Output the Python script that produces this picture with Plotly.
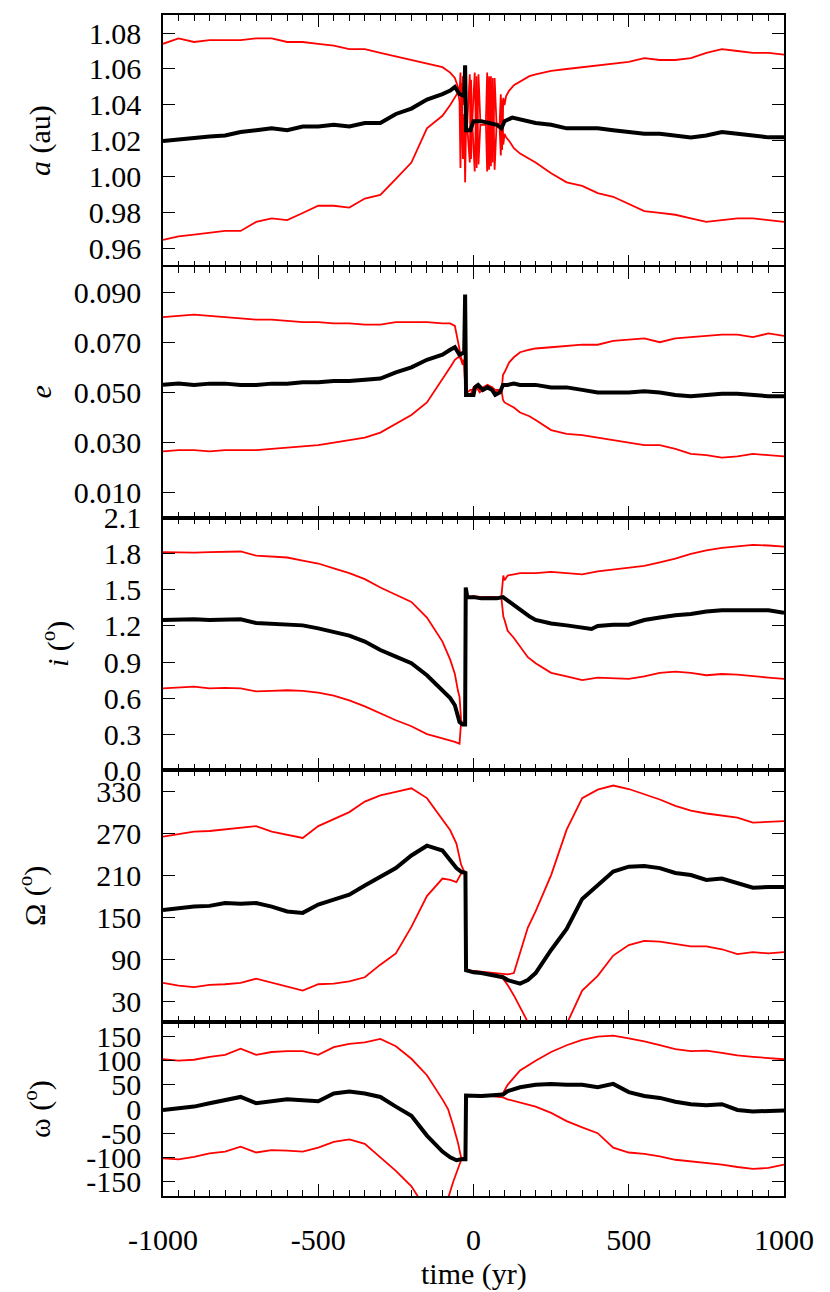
import plotly.graph_objects as go
from plotly.subplots import make_subplots

FONT = "Liberation Serif"
RED = "#ff0000"

# ---- panel 1: semi-major axis a (au) ----
A_T = [-1000, -950, -900, -850, -800, -750, -700, -650, -600, -550, -500, -450, -400, -350,
       -300, -250, -200, -150, -100, -75, -60, -45, -30, -27, -24, -10, 0, 25, 50, 75, 90,
       100, 125, 150, 200, 250, 300, 350, 400, 450, 500, 550, 600, 650, 700, 750, 800, 850,
       900, 950, 1000]
A_MID = [1.020, 1.021, 1.022, 1.0225, 1.023, 1.025, 1.026, 1.027, 1.026, 1.028, 1.028, 1.029,
         1.028, 1.030, 1.030, 1.035, 1.038, 1.043, 1.046, 1.048, 1.050, 1.046, 1.045, 1.062,
         1.026, 1.026, 1.031, 1.031, 1.030, 1.029, 1.027, 1.031, 1.033, 1.032, 1.030, 1.029,
         1.027, 1.027, 1.027, 1.026, 1.025, 1.024, 1.024, 1.023, 1.022, 1.023, 1.025, 1.024,
         1.023, 1.022, 1.022]
A_T_RED = [-1000, -950, -900, -850, -800, -750, -700, -650, -600, -550, -500, -450, -400, -350,
           -300, -250, -200, -150, -100, -75, -60, -50, -45, -42, -38, -34, -30, -27, -24, -20,
           -12, -8, -4, 4, 10, 16, 22, 40, 44, 50, 56, 62, 68, 74, 84, 88, 92, 96, 100, 105,
           115, 130, 150, 180, 200, 250, 300, 350, 400, 450, 500, 550, 600, 650, 700, 750,
           800, 850, 900, 950, 1000]
A_HI = [1.074, 1.077, 1.075, 1.076, 1.076, 1.076, 1.077, 1.077, 1.075, 1.075, 1.074, 1.073,
        1.071, 1.071, 1.069, 1.067, 1.065, 1.063, 1.061, 1.058, 1.055, 1.050, 1.046, 1.058,
        1.030, 1.056, 1.040, 1.060, 1.030, 1.030, 1.057, 1.010, 1.031, 1.058, 1.005, 1.057,
        1.031, 1.031, 1.058, 1.004, 1.056, 1.008, 1.055, 1.030, 1.029, 1.046, 1.015, 1.044,
        1.040, 1.045, 1.048, 1.051, 1.053, 1.056, 1.057, 1.059, 1.060, 1.061, 1.062, 1.063,
        1.064, 1.066, 1.065, 1.065, 1.066, 1.069, 1.071, 1.070, 1.069, 1.069, 1.068]
A_LO = [0.965, 0.967, 0.968, 0.969, 0.970, 0.970, 0.975, 0.977, 0.976, 0.980, 0.984, 0.984,
        0.983, 0.988, 0.990, 0.999, 1.008, 1.027, 1.034, 1.040, 1.044, 1.047, 1.042, 1.005,
        1.052, 1.010, 1.035, 0.997, 1.028, 1.028, 1.008, 1.054, 1.030, 1.003, 1.056, 1.007,
        1.029, 1.029, 1.003, 1.056, 1.006, 1.055, 1.004, 1.028, 1.028, 1.012, 1.043, 1.018,
        1.024, 1.022, 1.020, 1.016, 1.013, 1.010, 1.008, 1.002, 0.997, 0.995, 0.991, 0.989,
        0.985, 0.981, 0.980, 0.979, 0.977, 0.975, 0.976, 0.977, 0.977, 0.976, 0.975]

# ---- panel 2: eccentricity e ----
E_T = [-1000, -950, -900, -850, -800, -750, -700, -650, -600, -550, -500, -450, -400, -350,
       -300, -250, -200, -150, -100, -75, -60, -45, -30, -27, -24, -10, 0, 5, 15, 30, 45,
       60, 70, 85, 95, 110, 130, 150, 200, 250, 300, 350, 400, 450, 500, 550, 600, 650, 700,
       750, 800, 850, 900, 950, 1000]
E_MID = [0.053, 0.0535, 0.053, 0.0535, 0.0535, 0.053, 0.053, 0.0535, 0.0535, 0.054, 0.054,
         0.0545, 0.0545, 0.055, 0.0555, 0.058, 0.060, 0.063, 0.065, 0.067, 0.068, 0.065,
         0.066, 0.089, 0.049, 0.049, 0.049, 0.052, 0.053, 0.051, 0.052, 0.051, 0.049, 0.050,
         0.053, 0.053, 0.0535, 0.053, 0.053, 0.052, 0.052, 0.051, 0.050, 0.050, 0.050,
         0.0505, 0.050, 0.049, 0.0485, 0.049, 0.0495, 0.0495, 0.049, 0.0485, 0.0485]
E_T_RED = [-1000, -950, -900, -850, -800, -750, -700, -650, -600, -550, -500, -450, -400, -350,
           -300, -250, -200, -150, -100, -75, -60, -50, -45, -40, -35, -30, -26, -20, -10, 0,
           10, 20, 30, 45, 60, 70, 80, 90, 95, 100, 115, 130, 150, 180, 200, 250, 300, 350,
           400, 450, 500, 550, 600, 650, 700, 750, 800, 850, 900, 950, 1000]
E_HI = [0.080, 0.0805, 0.081, 0.0805, 0.080, 0.0795, 0.079, 0.079, 0.0785, 0.078, 0.078,
        0.0775, 0.0775, 0.077, 0.077, 0.078, 0.078, 0.078, 0.0775, 0.0775, 0.0765, 0.070,
        0.066, 0.064, 0.062, 0.063, 0.049, 0.049, 0.049, 0.052, 0.053, 0.051, 0.052, 0.053,
        0.052, 0.050, 0.051, 0.050, 0.057, 0.058, 0.062, 0.064, 0.066, 0.067, 0.0675, 0.068,
        0.0685, 0.069, 0.069, 0.0705, 0.071, 0.0715, 0.070, 0.0715, 0.072, 0.0725, 0.073,
        0.073, 0.072, 0.0735, 0.0725]
E_LO = [0.0265, 0.027, 0.027, 0.0265, 0.027, 0.027, 0.027, 0.0275, 0.028, 0.0285, 0.029,
        0.030, 0.031, 0.032, 0.034, 0.0375, 0.041, 0.046, 0.055, 0.060, 0.063, 0.064, 0.064,
        0.063, 0.061, 0.062, 0.050, 0.050, 0.051, 0.051, 0.052, 0.050, 0.051, 0.052, 0.052,
        0.051, 0.051, 0.051, 0.047, 0.046, 0.045, 0.044, 0.042, 0.0405, 0.039, 0.035,
        0.0335, 0.033, 0.032, 0.031, 0.030, 0.029, 0.029, 0.0275, 0.0255, 0.025, 0.024,
        0.0245, 0.0255, 0.025, 0.0245]

# ---- panel 3: inclination i (deg) ----
I_T = [-1000, -950, -900, -850, -800, -750, -700, -650, -600, -550, -500, -450, -400, -350,
       -300, -250, -200, -150, -100, -75, -60, -45, -35, -27, -25, -20, -10, 0, 25, 50, 75,
       95, 110, 130, 150, 180, 200, 250, 300, 350, 380, 400, 450, 500, 550, 600, 650, 700,
       750, 800, 850, 900, 950, 1000]
I_MID = [1.25, 1.255, 1.255, 1.25, 1.25, 1.255, 1.225, 1.22, 1.21, 1.205, 1.18, 1.15, 1.12,
         1.07, 1.0, 0.945, 0.89, 0.79, 0.67, 0.60, 0.54, 0.40, 0.38, 0.38, 1.52, 1.44, 1.44,
         1.44, 1.43, 1.43, 1.43, 1.44, 1.41, 1.37, 1.33, 1.28, 1.25, 1.22, 1.205, 1.19, 1.175,
         1.2, 1.21, 1.21, 1.25, 1.27, 1.29, 1.30, 1.32, 1.33, 1.33, 1.33, 1.33, 1.31]
I_T_RED = [-1000, -950, -900, -850, -800, -750, -700, -650, -600, -550, -500, -450, -400, -350,
           -300, -250, -200, -150, -100, -75, -60, -50, -45, -40, -35, -27, -25, -20, -10, 0,
           25, 50, 75, 90, 96, 100, 110, 130, 150, 175, 200, 250, 300, 350, 400, 450, 500,
           550, 600, 650, 700, 750, 800, 850, 900, 950, 1000]
I_HI = [1.815, 1.81, 1.81, 1.815, 1.815, 1.82, 1.785, 1.775, 1.77, 1.745, 1.72, 1.68, 1.64,
        1.59, 1.52, 1.46, 1.40, 1.27, 1.07, 0.92, 0.80, 0.66, 0.61, 0.42, 0.38, 0.40, 1.45,
        1.45, 1.44, 1.45, 1.44, 1.44, 1.43, 1.45, 1.62, 1.58, 1.62, 1.63, 1.64, 1.64, 1.64,
        1.65, 1.64, 1.63, 1.655, 1.67, 1.69, 1.70, 1.73, 1.76, 1.80, 1.83, 1.85, 1.86, 1.875,
        1.87, 1.86]
I_LO = [0.68, 0.69, 0.695, 0.68, 0.685, 0.68, 0.655, 0.66, 0.665, 0.66, 0.645, 0.62, 0.58,
        0.53, 0.47, 0.415, 0.365, 0.30, 0.265, 0.25, 0.235, 0.225, 0.22, 0.40, 0.38, 0.38,
        1.44, 1.44, 1.43, 1.44, 1.43, 1.44, 1.44, 1.43, 1.28, 1.25, 1.16, 1.10, 1.03, 0.94,
        0.89, 0.81, 0.78, 0.75, 0.77, 0.765, 0.76, 0.78, 0.81, 0.82, 0.81, 0.79, 0.80, 0.795,
        0.78, 0.77, 0.76]

# ---- panel 4: node longitude Omega (deg) ----
O_T = [-1000, -950, -900, -850, -800, -750, -700, -650, -600, -550, -500, -450, -400, -350,
       -300, -250, -200, -150, -100, -75, -55, -40, -30, -26, -24, 0, 25, 50, 75, 95, 110,
       130, 150, 175, 200, 250, 300, 350, 400, 450, 500, 550, 600, 650, 700, 750, 800, 850,
       900, 950, 1000]
O_MID = [160, 163, 165, 166, 170, 169, 170, 165, 158, 156, 168, 175, 182, 195, 207, 220, 238,
         252, 245, 231, 220, 215, 213, 213, 74, 71, 70, 68, 66, 64, 60, 57, 55, 60, 70, 103,
         133, 176, 196, 215, 222, 223, 220, 213, 210, 203, 205, 198, 192, 193, 193]
O_HI = [265, 268, 272, 273, 275, 278, 280, 272, 268, 263, 280, 290, 300, 315, 324, 329, 334,
        320, 290, 274, 255, 225, 215, 215, 74, 73, 71, 70, 69, 68, 68, 70, 100, 135, 158, 210,
        275, 320, 332, 338, 333, 326, 318, 309, 302, 298, 295, 292, 285, 286, 287]
O_LO = [56, 52, 50, 53, 54, 56, 62, 56, 50, 45, 54, 55, 58, 64, 82, 98, 136, 180, 205, 203,
        200, 212, 215, 214, 74, 72, 71, 69, 67, 62, 53, 38, 22, 0, -25, -60, -3, 45, 66, 95,
        110, 116, 115, 112, 108, 108, 104, 97, 100, 98, 100]

# ---- panel 5: argument of perihelion omega (deg) ----
W_T = [-1000, -950, -900, -850, -800, -750, -700, -650, -600, -550, -500, -450, -400, -350,
       -300, -250, -200, -150, -100, -75, -55, -40, -30, -26, -24, 0, 25, 50, 75, 95, 110,
       130, 150, 200, 250, 300, 350, 400, 450, 500, 550, 600, 650, 700, 750, 800, 850, 900,
       950, 1000]
W_MID = [-2, 2, 5, 12, 18, 25, 12, 15, 20, 18, 16, 32, 36, 32, 25, 5, -14, -55, -88, -100,
         -106, -104, -104, -104, 28, 27, 27, 28, 28, 30, 37, 40, 45, 50, 52, 50, 50, 45, 52,
         35, 27, 23, 15, 10, 8, 10, -2, -5, -3, -3]
W_T_RED = [-1000, -950, -900, -850, -800, -750, -700, -650, -600, -550, -500, -450, -400, -350,
           -300, -250, -200, -175, -150, -100, -82, -65, -50, -40, -30, -26, -24, 0, 25, 50,
           75, 95, 110, 130, 150, 200, 250, 300, 350, 400, 450, 500, 550, 600, 650, 700, 750,
           800, 850, 900, 950, 1000]
W_HI = [103, 100, 102, 108, 112, 125, 112, 118, 120, 120, 112, 128, 135, 138, 145, 130, 104,
        88, 70, 20, 0, -35, -70, -100, -102, -100, 28, 28, 27, 29, 30, 33, 50, 65, 80, 100,
        118, 132, 143, 150, 152, 146, 140, 132, 124, 120, 121, 116, 111, 108, 106, 103]
W_LO = [-102, -104, -99, -92, -88, -78, -90, -85, -86, -88, -80, -68, -63, -72, -100, -128,
        -160, -185, -210, -210, -185, -150, -126, -106, -104, -103, 28, 26, 25, 27, 26, 24,
        20, 17, 14, 5, -8, -25, -38, -50, -80, -90, -93, -98, -105, -108, -112, -115, -120,
        -124, -122, -115]

PANELS = [
    dict(t=A_T, mid=A_MID, tr=A_T_RED, hi=A_HI, lo=A_LO, rng=[0.95, 1.09],
         tv=[0.96, 0.98, 1.00, 1.02, 1.04, 1.06, 1.08],
         tt=["0.96", "0.98", "1.00", "1.02", "1.04", "1.06", "1.08"],
         title="<i>a</i> (au)", tx=40),
    dict(t=E_T, mid=E_MID, tr=E_T_RED, hi=E_HI, lo=E_LO, rng=[0.0, 0.1],
         tv=[0.01, 0.03, 0.05, 0.07, 0.09],
         tt=["0.010", "0.030", "0.050", "0.070", "0.090"],
         title="<i>e</i>", tx=40),
    dict(t=I_T, mid=I_MID, tr=I_T_RED, hi=I_HI, lo=I_LO, rng=[0.0, 2.1],
         tv=[0.0, 0.3, 0.6, 0.9, 1.2, 1.5, 1.8, 2.1],
         tt=["0.0", "0.3", "0.6", "0.9", "1.2", "1.5", "1.8", "2.1"],
         title="<i>i</i> (<sup>o</sup>)", tx=56),
    dict(t=O_T, mid=O_MID, tr=O_T, hi=O_HI, lo=O_LO, rng=[0, 360],
         tv=[30, 90, 150, 210, 270, 330],
         tt=["30", "90", "150", "210", "270", "330"],
         title="Ω (<sup>o</sup>)", tx=32),
    dict(t=W_T, mid=W_MID, tr=W_T_RED, hi=W_HI, lo=W_LO, rng=[-180, 180],
         tv=[-150, -100, -50, 0, 50, 100, 150],
         tt=["-150", "-100", "-50", "0", "50", "100", "150"],
         title="ω (<sup>o</sup>)", tx=37),
]

fig = make_subplots(rows=5, cols=1, shared_xaxes=True, vertical_spacing=0,
                    row_heights=[252, 251, 252.3, 252, 174])

annotations = []
for k, p in enumerate(PANELS):
    row = k + 1
    fig.add_trace(go.Scatter(x=p["tr"], y=p["hi"], mode="lines",
                             line=dict(color=RED, width=1.8), showlegend=False), row=row, col=1)
    fig.add_trace(go.Scatter(x=p["tr"], y=p["lo"], mode="lines",
                             line=dict(color=RED, width=1.8), showlegend=False), row=row, col=1)
    fig.add_trace(go.Scatter(x=p["t"], y=p["mid"], mode="lines",
                             line=dict(color="black", width=4), showlegend=False), row=row, col=1)
    fig.update_yaxes(range=p["rng"], tickvals=p["tv"], ticktext=p["tt"],
                     row=row, col=1)
    fig.update_xaxes(showticklabels=(row == 5), row=row, col=1)

    ax = fig.layout["yaxis" if row == 1 else f"yaxis{row}"]
    d0, d1 = ax.domain
    annotations.append(dict(text=p["title"], xref="paper", yref="paper",
                            x=(p["tx"] - 163) / 621, y=(d0 + d1) / 2,
                            xanchor="center", yanchor="middle", textangle=-90,
                            showarrow=False, font=dict(family=FONT, size=30, color="black")))

# the page body adds an 8px offset, so the figure is 8px smaller and margins shifted
annotations.append(dict(text="time (yr)", xref="paper", yref="paper", x=0.5,
                        y=(1196 - 1274) / 1181, xanchor="center", yanchor="middle",
                        showarrow=False, font=dict(family=FONT, size=30, color="black")))

fig.update_xaxes(range=[-1000, 1000], tickvals=[-1000, -500, 0, 500, 1000],
                 ticktext=["-1000", "-500", "0", "500", "1000"],
                 showline=True, linecolor="black", linewidth=1.5, mirror="ticks",
                 ticks="inside", ticklen=12, tickwidth=1.2, tickcolor="black",
                 minor=dict(dtick=50, ticks="inside", ticklen=6, tickwidth=1,
                            tickcolor="black"),
                 showgrid=False, zeroline=False, automargin=False, ticklabelstandoff=16,
                 tickfont=dict(family=FONT, size=30, color="black"))
fig.update_yaxes(showline=True, linecolor="black", linewidth=1.5, mirror="ticks",
                 ticks="inside", ticklen=12, tickwidth=1.2, tickcolor="black",
                 showgrid=False, zeroline=False, automargin=False, ticklabelstandoff=14,
                 tickfont=dict(family=FONT, size=30, color="black"))

fig.update_layout(width=822, height=1284, template="none",
                  margin=dict(l=155, r=46, t=7, b=96, autoexpand=False),
                  paper_bgcolor="white", plot_bgcolor="white",
                  font=dict(family=FONT, color="black"),
                  annotations=annotations, showlegend=False)

fig.write_html("out.html")
